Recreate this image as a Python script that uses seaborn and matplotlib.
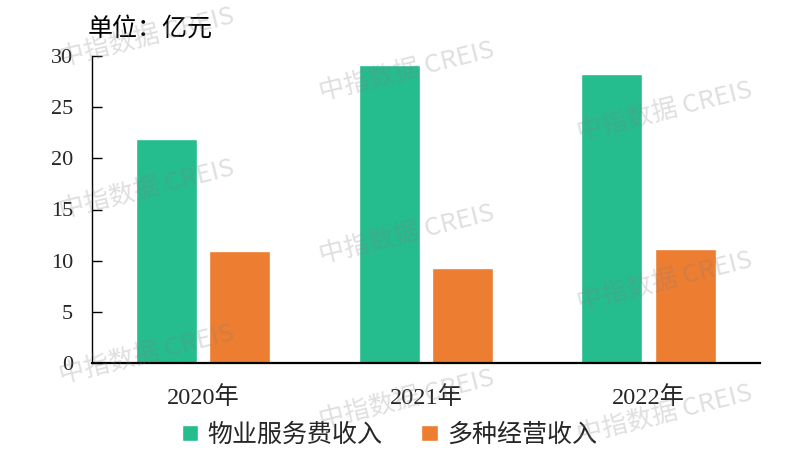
import matplotlib
matplotlib.use("Agg")
import matplotlib.pyplot as plt
import seaborn as sns
import pandas as pd

years = ['2020年', '2021年', '2022年']
series_names = ['物业服务费收入', '多种经营收入']
fee_income = [21.9, 29.1, 28.2]
diverse_income = [11.0, 9.3, 11.1]
colors = ['#25BC8E', '#ED7D31']
y_ticks = [0, 5, 10, 15, 20, 25, 30]
unit_text = '单位：亿元'
watermark = '中指数据 CREIS'

df = pd.DataFrame({
    'year': years * 2,
    'value': fee_income + diverse_income,
    'type': [series_names[0]] * len(years) + [series_names[1]] * len(years),
})

sns.set_style('white')
plt.rcParams['font.family'] = ['Liberation Serif', 'Noto Sans CJK SC', 'DejaVu Sans']

W, H = 798, 453
fig = plt.figure(figsize=(W / 100, H / 100), dpi=100)
ax = fig.add_axes([91.7 / W, 1 - 363.3 / H, (760 - 91.7) / W, (363.3 - 55.7) / H])

sns.barplot(data=df, x='year', y='value', hue='type', hue_order=series_names,
            order=years, palette=colors, saturation=1, width=0.66, gap=0.17,
            ax=ax, legend=True)

handles, labels = ax.get_legend_handles_labels()
if ax.legend_ is not None:
    ax.legend_.remove()

ax.set_xlim(-0.5, 2.5)
ax.set_ylim(0, 30)
ax.set_yticks(y_ticks)
ax.set_yticklabels([str(t) for t in y_ticks], fontsize=16, family='Liberation Serif')
ax.set_xticks(range(len(years)))
ax.set_xticklabels(years, fontsize=17.5, family=['Liberation Serif', 'Noto Sans CJK SC'])
ax.set_xticks([-0.5, 0.5, 1.5, 2.5], minor=True)
ax.tick_params(axis='x', which='major', length=0, pad=16.5)
ax.tick_params(axis='x', which='minor', direction='in', length=6.5, width=1.3, color='black')
ax.tick_params(axis='y', direction='in', length=7.2, width=1.0, color='black', pad=13.5, left=True)
ax.set_xlabel('')
ax.set_ylabel('')
for s in ['top', 'right']:
    ax.spines[s].set_visible(False)
ax.spines['left'].set_color('black')
ax.spines['left'].set_linewidth(1.0)
ax.spines['bottom'].set_color('black')
ax.spines['bottom'].set_linewidth(1.6)

fig.text(88 / W, 1 - 29 / H, unit_text, fontsize=18, family=['Noto Sans CJK SC'],
         ha='left', va='center', color='black')

fig.legend(handles, labels, loc='center', bbox_to_anchor=(389.5 / W, 1 - 434.7 / H),
           ncol=2, frameon=False, prop={'family': 'Noto Sans CJK SC', 'size': 18},
           handlelength=0.65, handleheight=0.65, handletextpad=0.38, columnspacing=1.55,
           borderpad=0, borderaxespad=0)

wm_pos = [(147, 38), (147, 190), (147, 355),
          (407, 72), (407, 235), (407, 400),
          (665, 112), (665, 282), (665, 415)]
for (x, y) in wm_pos:
    fig.text(x / W, 1 - y / H, watermark, fontsize=18.5, family=['Noto Sans CJK SC'],
             weight='medium', rotation=14, ha='center', va='center', color='#808080',
             alpha=0.25, zorder=10)

fig.savefig('out.png', dpi=100)
